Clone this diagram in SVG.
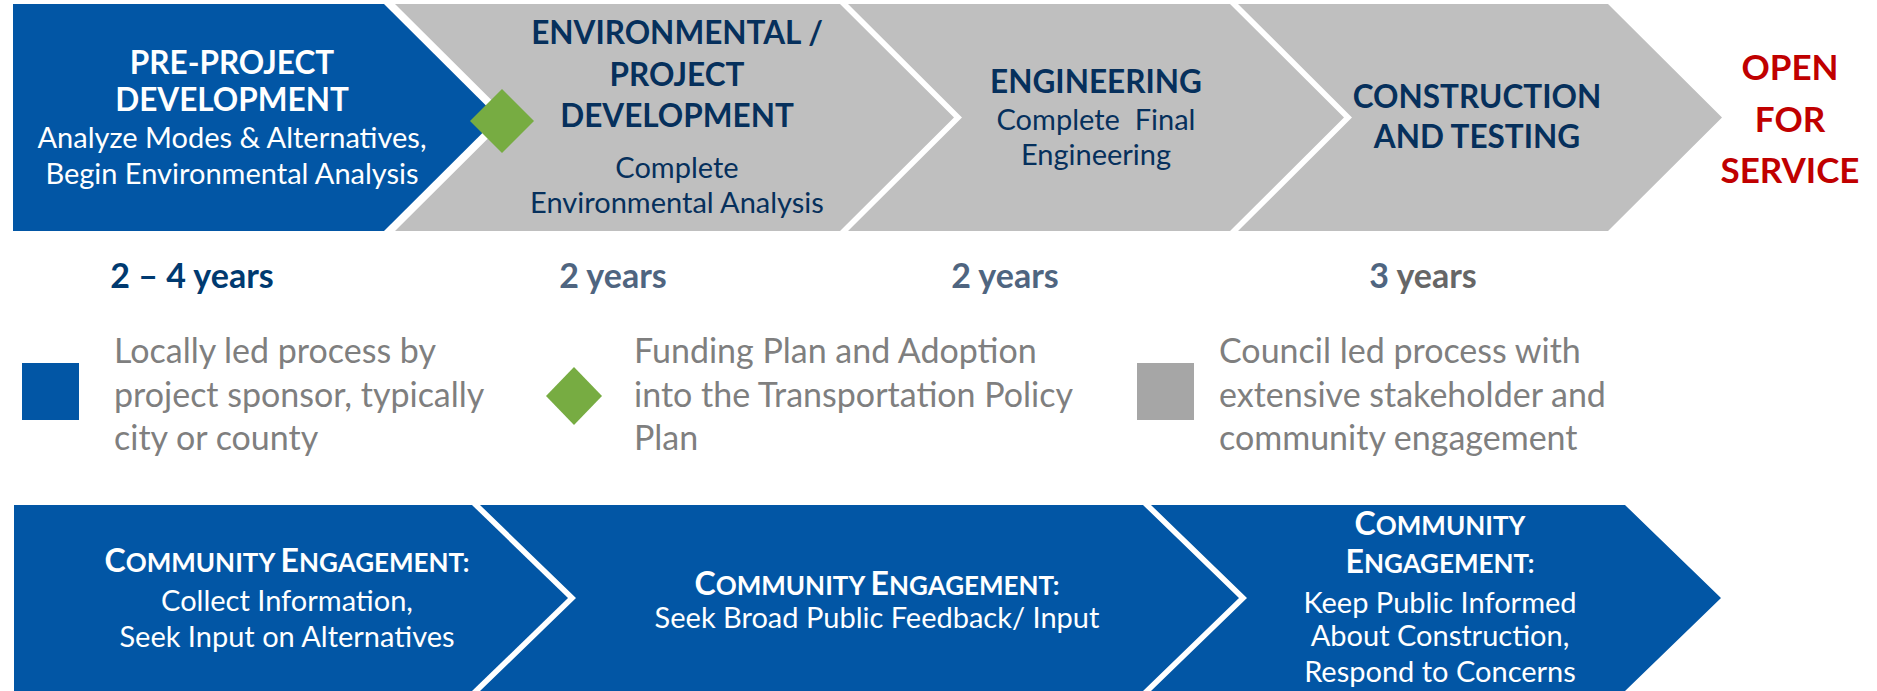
<svg xmlns="http://www.w3.org/2000/svg" width="1877" height="691" viewBox="0 0 1877 691">
<style>
text{font-family:Lato,"Open Sans","Liberation Sans",sans-serif;text-anchor:middle}
.blue{fill:#0256A5}
.gray{fill:#BFBFBF}
.h{font-weight:700;font-size:31.5px}
.hw{fill:#FFFFFF}
.hn{fill:#06305C}
.sub{font-size:29px}
.red{fill:#C00000;font-weight:700;font-size:35px}
.yr{font-weight:700;font-size:34px}
.leg{font-size:34px;fill:#7F7F7F;text-anchor:start}
.ce{font-weight:700;fill:#FFFFFF}
.big{font-size:32px}
.sm{font-size:26px}
.bt{font-size:29px;fill:#FFFFFF}
</style>
<g id="phase-pre-project">
<polygon class="blue" points="13,4 384,4 498,117.5 384,231 13,231"/>
<text class="h hw" x="232" y="74">PRE-PROJECT</text>
<text class="h hw" x="232" y="111">DEVELOPMENT</text>
<text class="sub hw" x="232" y="148">Analyze Modes &amp; Alternatives,</text>
<text class="sub hw" x="232" y="184">Begin Environmental Analysis</text>
</g>
<g id="phase-environmental">
<polygon class="gray" points="395,4 840,4 954,117.5 840,231 395,231 509,117.5"/>
<text class="h hn" x="677" y="44">ENVIRONMENTAL /</text>
<text class="h hn" x="677" y="86">PROJECT</text>
<text class="h hn" x="677" y="127">DEVELOPMENT</text>
<text class="sub hn" x="677" y="178">Complete</text>
<text class="sub hn" x="677" y="213">Environmental Analysis</text>
</g>
<g id="milestone-diamond">
<polygon fill="#77AC42" points="502,89 534,121 502,153 470,121"/>
</g>
<g id="phase-engineering">
<polygon class="gray" points="848,4 1230,4 1344,117.5 1230,231 848,231 962,117.5"/>
<text class="h hn" x="1096" y="93">ENGINEERING</text>
<text class="sub hn" x="1096" y="130" xml:space="preserve">Complete  Final</text>
<text class="sub hn" x="1096" y="165">Engineering</text>
</g>
<g id="phase-construction">
<polygon class="gray" points="1238,4 1608,4 1722,117.5 1608,231 1238,231 1352,117.5"/>
<text class="h hn" x="1477" y="108">CONSTRUCTION</text>
<text class="h hn" x="1477" y="148">AND TESTING</text>
</g>
<g id="open-for-service">
<text class="red" x="1790" y="80">OPEN</text>
<text class="red" x="1790" y="132">FOR</text>
<text class="red" x="1790" y="183">SERVICE</text>
</g>
<g id="durations">
<text class="yr" x="192" y="288" fill="#003A70">2 – 4 years</text>
<text class="yr" x="613" y="288" fill="#4F6580">2 years</text>
<text class="yr" x="1005" y="288" fill="#4F6580">2 years</text>
<text class="yr" x="1423" y="288"><tspan fill="#4F6580">3</tspan><tspan fill="#666666"> years</tspan></text>
</g>
<g id="legend-local">
<rect x="22" y="363" width="57" height="57" fill="#0256A5"/>
<text class="leg" x="114" y="363">Locally led process by</text>
<text class="leg" x="114" y="407">project sponsor, typically</text>
<text class="leg" x="114" y="450">city or county</text>
</g>
<g id="legend-funding">
<polygon fill="#77AC42" points="574,367 602,396 574,425 546,396"/>
<text class="leg" x="634" y="363">Funding Plan and Adoption</text>
<text class="leg" x="634" y="407">into the Transportation Policy</text>
<text class="leg" x="634" y="450">Plan</text>
</g>
<g id="legend-council">
<rect x="1137" y="363" width="57" height="57" fill="#A6A6A6"/>
<text class="leg" x="1219" y="363">Council led process with</text>
<text class="leg" x="1219" y="407">extensive stakeholder and</text>
<text class="leg" x="1219" y="450">community engagement</text>
</g>
<g id="engagement-1">
<polygon class="blue" points="14,505 472,505 568,598 472,691 14,691"/>
<text class="ce" x="287" y="572"><tspan class="big">C</tspan><tspan class="sm">OMMUNITY </tspan><tspan class="big">E</tspan><tspan class="sm">NGAGEMENT:</tspan></text>
<text class="bt" x="287" y="611">Collect Information,</text>
<text class="bt" x="287" y="647">Seek Input on Alternatives</text>
</g>
<g id="engagement-2">
<polygon class="blue" points="480,505 1143,505 1239,598 1143,691 480,691 576,598"/>
<text class="ce" x="877" y="595"><tspan class="big">C</tspan><tspan class="sm">OMMUNITY </tspan><tspan class="big">E</tspan><tspan class="sm">NGAGEMENT:</tspan></text>
<text class="bt" x="877" y="628">Seek Broad Public Feedback/ Input</text>
</g>
<g id="engagement-3">
<polygon class="blue" points="1151,505 1625,505 1721,598 1625,691 1151,691 1247,598"/>
<text class="ce" x="1440" y="535"><tspan class="big">C</tspan><tspan class="sm">OMMUNITY</tspan></text>
<text class="ce" x="1440" y="573"><tspan class="big">E</tspan><tspan class="sm">NGAGEMENT:</tspan></text>
<text class="bt" x="1440" y="613">Keep Public Informed</text>
<text class="bt" x="1440" y="646">About Construction,</text>
<text class="bt" x="1440" y="682">Respond to Concerns</text>
</g>
<g id="connectors"/>
</svg>
